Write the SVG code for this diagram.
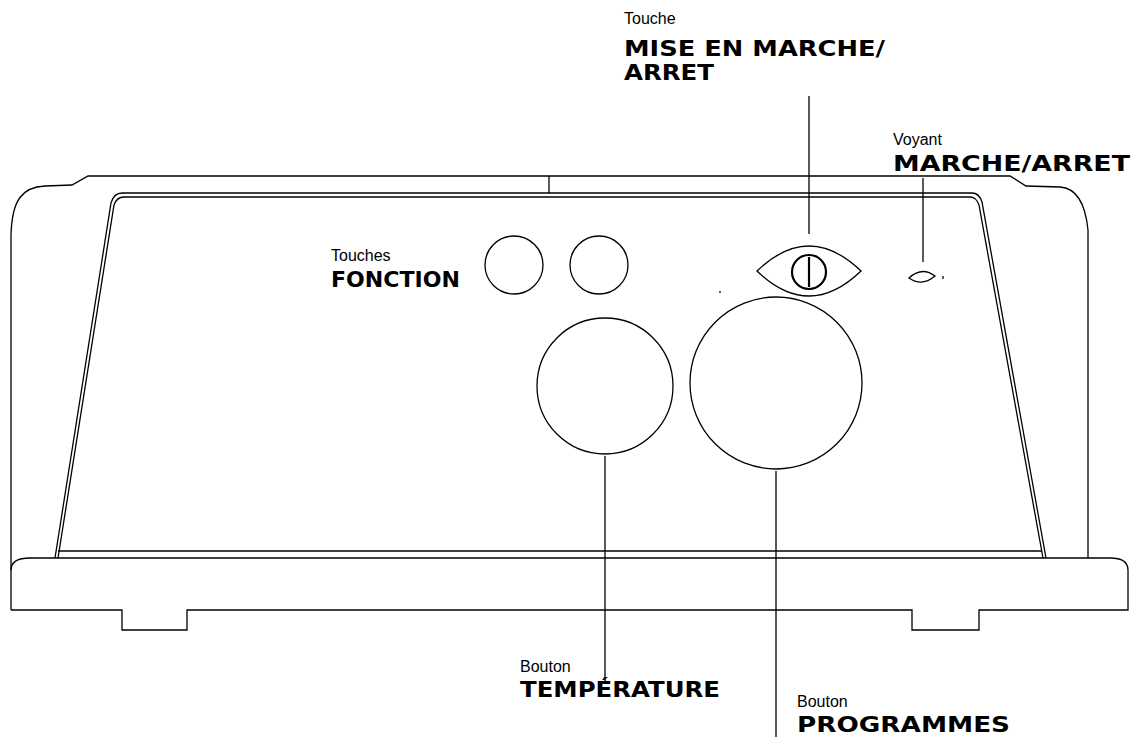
<svg xmlns="http://www.w3.org/2000/svg" width="1140" height="737" viewBox="0 0 1140 737">
<style>
.l{fill:none;stroke:#000;stroke-width:1.3}
.t{font-family:"Liberation Sans",Arial,sans-serif;font-size:16px;font-weight:300}
.b{font-family:"DejaVu Sans",sans-serif;font-size:22px;font-weight:bold}
</style>
<rect width="1140" height="737" fill="#fff"/>
<g id="body">
<path class="l" d="M11,610 L11,235 C12,200 22,187 45,186 L72,185 L88,176 L1010,176 L1026,186 L1060,187 C1075,188 1085,200 1088,230 L1088,558"/>
<path class="l" d="M11,570 C11,562 18,558 30,558 L1110,558 C1122,558 1128,562 1128,570 L1128,610 L979,610 L979,630 L912,630 L912,610 L187,610 L187,630 L122,630 L122,610 L11,610"/>
<path class="l" d="M55,558 L111,203 C113,196 117,193 122,193 L972,193 C977,193 980,196 982,202 L1046,558"/>
<path class="l" d="M58,558 L114,205 C116,199 119,197 124,197 L970,197 C975,197 977,200 979,205 L1043,558"/>
<line class="l" x1="58" y1="551" x2="1042" y2="551"/>
<line class="l" x1="549" y1="176" x2="549" y2="193"/>
<line class="l" x1="720" y1="291" x2="720" y2="293"/>
<line class="l" x1="943" y1="276" x2="943" y2="279"/>
</g>
<g id="fonction">
<circle class="l" cx="514" cy="265" r="29"/>
<circle class="l" cx="599" cy="265" r="29"/>
<text class="t" x="331" y="261">Touches</text>
<text class="b" x="331" y="287" textLength="129" lengthAdjust="spacingAndGlyphs">FONCTION</text>
</g>
<g id="power">
<path class="l" d="M757,271 Q809,221 861,271 Q809,321 757,271 Z"/>
<circle cx="809" cy="272" r="17" fill="none" stroke="#000" stroke-width="2.2"/>
<line x1="809" y1="257" x2="809" y2="287" stroke="#000" stroke-width="2.2"/>
<text class="t" x="624" y="24">Touche</text>
<text class="b" x="624" y="56" textLength="261" lengthAdjust="spacingAndGlyphs">MISE EN MARCHE/</text>
<text class="b" x="624" y="80" textLength="90" lengthAdjust="spacingAndGlyphs">ARRET</text>
</g>
<g id="voyant">
<path class="l" d="M909,278 Q922,266 935,276 Q922,287 909,278 Z" stroke-width="1.6"/>
<text class="t" x="893" y="145">Voyant</text>
<text class="b" x="893" y="171" textLength="237" lengthAdjust="spacingAndGlyphs">MARCHE/ARRET</text>
</g>
<g id="temperature">
<circle class="l" cx="605" cy="386" r="68"/>
<text class="t" x="520" y="672">Bouton</text>
<text class="b" x="520" y="697" textLength="200" lengthAdjust="spacingAndGlyphs">TEMPÉRATURE</text>
</g>
<g id="programmes">
<circle class="l" cx="776" cy="383" r="86"/>
<text class="t" x="797" y="707">Bouton</text>
<text class="b" x="797" y="732" textLength="213" lengthAdjust="spacingAndGlyphs">PROGRAMMES</text>
</g>
<g id="connectors" class="l">
<line x1="809" y1="96" x2="809" y2="234"/>
<line x1="923" y1="178" x2="923" y2="262"/>
<line x1="605" y1="456" x2="605" y2="683"/>
<line x1="776" y1="471" x2="776" y2="738"/>
</g>
</svg>
